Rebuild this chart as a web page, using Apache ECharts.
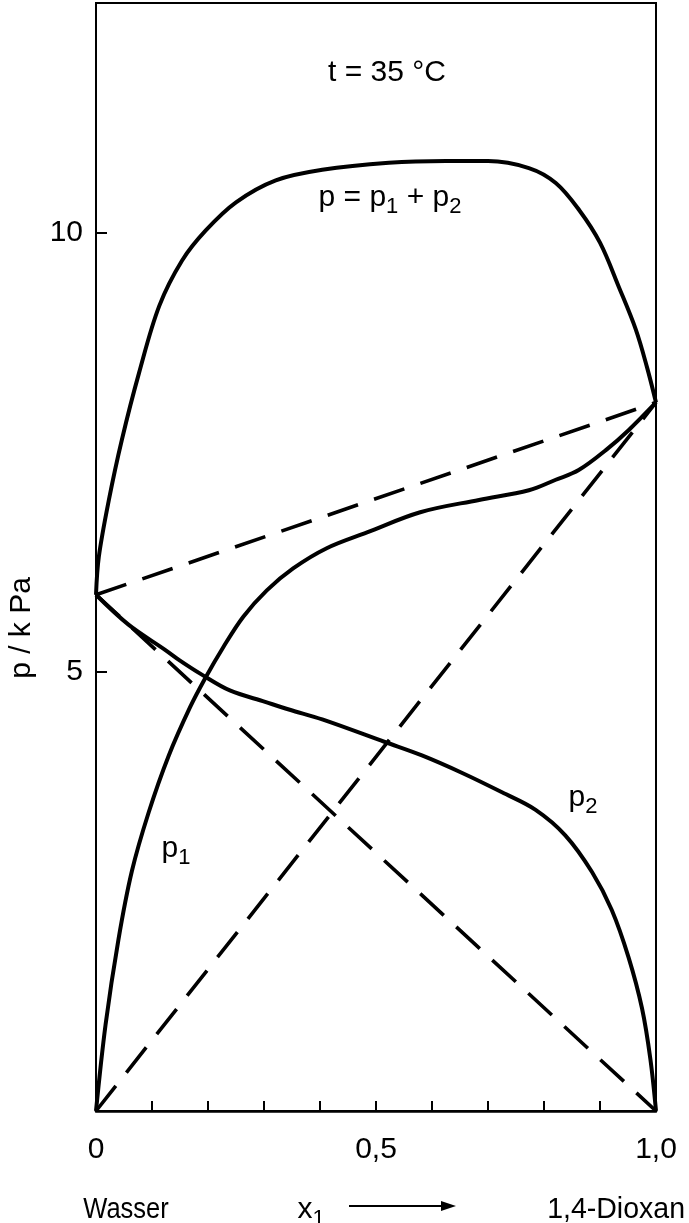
<!DOCTYPE html>
<html>
<head>
<meta charset="utf-8">
<title>Dampfdruck Wasser / 1,4-Dioxan</title>
<script src="https://cdn.jsdelivr.net/npm/echarts@6.0.0/dist/echarts.min.js"></script>
<style>
  html, body { margin: 0; padding: 0; background: #fff; }
  #chart { width: 689px; height: 1223px; }
</style>
</head>
<body>
<div id="chart"></div>
<script>
// x1 = Molenbruch 1,4-Dioxan, Druck in kPa (t = 35 °C)
const xTotal = [0, 0.005, 0.023, 0.046, 0.077, 0.113, 0.154, 0.196, 0.25, 0.321, 0.404, 0.523, 0.625, 0.70, 0.773, 0.821, 0.863, 0.9, 0.934, 0.964, 0.984, 1.0]
const pTotal = [5.88, 6.31, 6.96, 7.64, 8.41, 9.17, 9.69, 10.03, 10.35, 10.60, 10.72, 10.80, 10.82, 10.82, 10.74, 10.57, 10.26, 9.89, 9.38, 8.90, 8.47, 8.07]

const xP1 = [0, 0.017, 0.04, 0.064, 0.094, 0.13, 0.168, 0.195, 0.227, 0.263, 0.305, 0.352, 0.412, 0.484, 0.579, 0.684, 0.773, 0.821, 0.862, 0.911, 0.952, 1.0]
const pP1 = [0, 0.98, 1.95, 2.73, 3.40, 4.05, 4.60, 4.93, 5.28, 5.63, 5.93, 6.18, 6.41, 6.59, 6.82, 6.96, 7.07, 7.19, 7.30, 7.53, 7.76, 8.07]

const xP2 = [0, 0.058, 0.124, 0.15, 0.189, 0.239, 0.302, 0.346, 0.404, 0.517, 0.582, 0.654, 0.725, 0.785, 0.838, 0.886, 0.921, 0.951, 0.975, 0.99, 1.0]
const pP2 = [5.88, 5.54, 5.25, 5.13, 4.97, 4.79, 4.66, 4.57, 4.46, 4.20, 4.05, 3.85, 3.63, 3.43, 3.14, 2.72, 2.29, 1.75, 1.17, 0.59, 0]

// ideale Geraden (Raoult)
const xIdeal = [0, 1]
const pIdealTotal = [5.88, 8.07]
const pIdealP1 = [0, 8.07]
const pIdealP2 = [5.88, 0]

const xTickLabels = { '0': '0', '0.5': '0,5', '1': '1,0' }
const yTickLabels = [5, 10]

const FONT = '"Liberation Sans", Arial, sans-serif'
const FS = 30

const pairs = (xs, ys) => xs.map((x, i) => [x, ys[i]])

const chart = echarts.init(document.getElementById('chart'))

const solid = (name, xs, ys) => ({
  name,
  type: 'line',
  data: pairs(xs, ys),
  smooth: 0.35,
  showSymbol: false,
  lineStyle: { color: '#000', width: 4 },
  z: 3
})

const dashed = (name, ys) => ({
  name,
  type: 'line',
  data: pairs(xIdeal, ys),
  showSymbol: false,
  lineStyle: { color: '#000', width: 3.6, type: [32, 17] },
  z: 2
})

// Text mit tiefgestellten Ziffern
const label = (text, x, y, extra) => Object.assign({
  type: 'text', x, y,
  style: {
    text, fontSize: FS, fontFamily: FONT, fill: '#000',
    align: 'center', verticalAlign: 'middle', lineHeight: 40,
    rich: {
      sub: { fontSize: 22, fontFamily: FONT, fill: '#000', verticalAlign: 'bottom', lineHeight: 10 }
    }
  }
}, extra || {})

const option = {
  backgroundColor: '#fff',
  animation: false,
  grid: {
    left: 96, right: 33, top: 3, bottom: 112,
    outerBoundsMode: 'none',
    show: true, borderColor: '#000', borderWidth: 2
  },
  xAxis: {
    type: 'value',
    min: 0, max: 1, interval: 0.1,
    axisLine: { show: true, lineStyle: { color: '#000', width: 2.5 } },
    axisTick: { show: true, inside: true, length: 10, lineStyle: { color: '#000', width: 2 } },
    splitLine: { show: false },
    axisLabel: {
      margin: 24,
      fontFamily: FONT, fontSize: FS, color: '#000',
      formatter: v => {
        const key = String(Math.round(v * 10) / 10)
        return xTickLabels[key] || ''
      }
    }
  },
  yAxis: {
    type: 'value',
    min: 0, max: 12.62, interval: 5,
    axisLine: { show: true, lineStyle: { color: '#000', width: 2 } },
    axisTick: { show: true, inside: true, length: 11, lineStyle: { color: '#000', width: 2 } },
    splitLine: { show: false },
    axisLabel: {
      margin: 13,
      fontFamily: FONT, fontSize: FS, color: '#000',
      formatter: v => (yTickLabels.includes(Math.round(v * 100) / 100) ? String(v) : '')
    }
  },
  series: [
    dashed('ideal p', pIdealTotal),
    dashed('ideal p1', pIdealP1),
    dashed('ideal p2', pIdealP2),
    solid('p', xTotal, pTotal),
    solid('p1', xP1, pP1),
    solid('p2', xP2, pP2)
  ],
  graphic: [
    label('t = 35 °C', 387, 73),
    label('p = p{sub|1} + p{sub|2}', 390, 198),
    label('p{sub|1}', 176, 849),
    label('p{sub|2}', 583, 798),
    label('p / k Pa', 22, 628, { rotation: Math.PI / 2 }),
    label('Wasser', 126, 1210, { scaleX: 0.85 }),
    label('x{sub|1}', 311, 1210),
    {
      type: 'line',
      shape: { x1: 349, y1: 1206, x2: 444, y2: 1206 },
      style: { stroke: '#000', lineWidth: 2 }
    },
    {
      type: 'polygon',
      shape: { points: [[441, 1201], [456, 1206], [441, 1211]] },
      style: { fill: '#000' }
    },
    label('1,4-Dioxan', 685, 1210, { scaleX: 0.95, style: { text: '1,4-Dioxan', fontSize: FS, fontFamily: FONT, fill: '#000', align: 'right', verticalAlign: 'middle' } })
  ]
}

chart.setOption(option)
</script>
</body>
</html>
